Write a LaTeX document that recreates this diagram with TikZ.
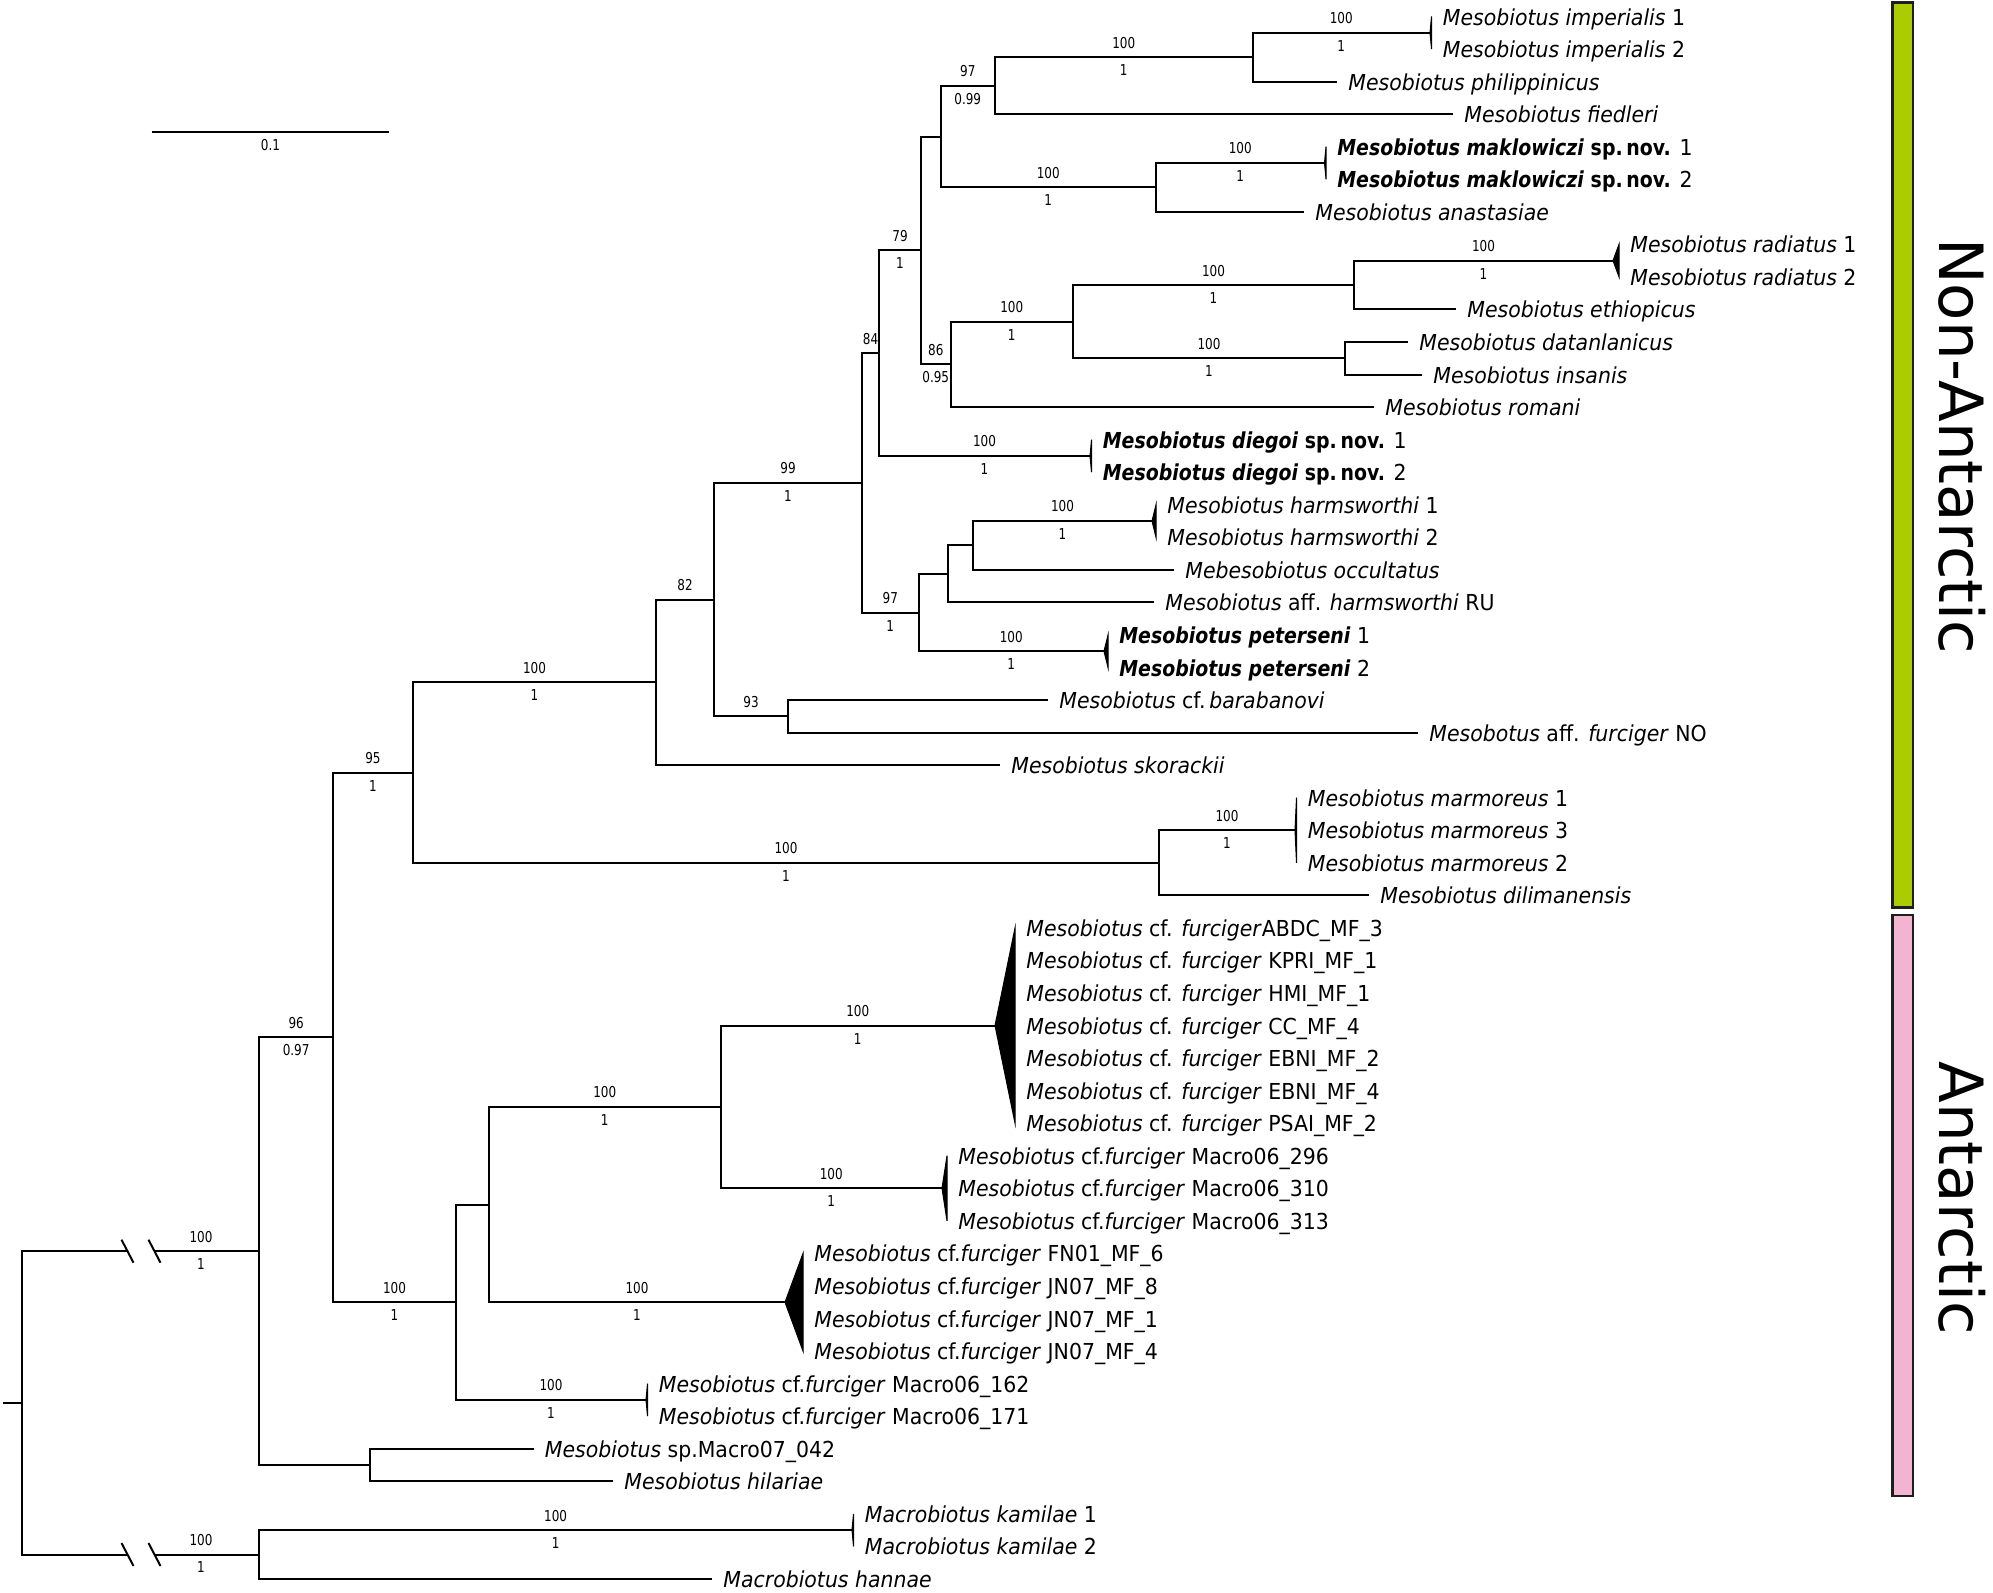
\documentclass[tikz,border=0pt]{standalone}
\usepackage{fontspec}
\setmainfont{DejaVu Sans}[FakeStretch=0.93, BoldFeatures={FakeStretch=0.86}, BoldItalicFeatures={FakeStretch=0.86}]
\newfontfamily\supf{DejaVu Sans}[FakeStretch=0.8]
\newfontfamily\bigf{DejaVu Sans}
\usetikzlibrary{calc}
\definecolor{barGreen}{RGB}{170,204,0}
\definecolor{barPink}{RGB}{242,180,208}
\definecolor{barEdge}{RGB}{30,30,30}
\tikzset{
 br/.style={line width=1pt, line join=miter},
 clade/.style={fill=black, draw=black, line width=0.5pt, line join=miter},
 tiplab/.style={anchor=base west, inner sep=0pt, xshift=5.5pt, yshift=-4.25pt, font=\fontsize{11}{13}\selectfont},
 bs/.style={font=\supf\fontsize{7.5}{8}\selectfont, inner sep=0pt, anchor=center},
 bsup/.style={bs, pos=0.75, yshift=7.25pt},
 bsdn/.style={bs, pos=0.75, yshift=-6.5pt},
 slashmark/.style={line width=1pt},
 regionbar/.style={draw=barEdge, line width=1.1pt},
 bigtext/.style={rotate=-90, anchor=base west, inner sep=0pt, font=\bigf\fontsize{30.5}{36}\selectfont},
}
\begin{document}
\begin{tikzpicture}[x=0.5pt, y=-16.275pt]
\useasboundingbox (0pt,0pt) rectangle (996.5pt,-796pt);
\begin{scope}[yshift=-8.25pt]
% internal nodes
\coordinate (root) at (21.6,42.591);
\coordinate (rstub) at (2.5,42.591);
\coordinate (sA1) at (127.5,37.932);
\coordinate (sA2) at (154.5,37.932);
\coordinate (sB1) at (127.5,47.25);
\coordinate (sB2) at (154.5,47.25);
\coordinate (nIn) at (259.3,37.932);
\coordinate (nOut) at (259.3,47.25);
\coordinate (n96) at (333,31.364);
\coordinate (nM) at (369.9,44.5);
\coordinate (n95) at (413,23.229);
\coordinate (nC) at (456,39.5);
\coordinate (nB) at (489,36.5);
\coordinate (nA) at (720.5,33.5);
\coordinate (n100d) at (656,20.457);
\coordinate (nMar) at (1159,26);
\coordinate (n82) at (714,17.914);
\coordinate (n93) at (788,21.5);
\coordinate (n99) at (862,14.328);
\coordinate (n84) at (879,10.344);
\coordinate (n97b) at (918.5,18.3125);
\coordinate (nH2) at (947.6,17.125);
\coordinate (nH) at (973,16.25);
\coordinate (n79) at (921,7.1875);
\coordinate (n97) at (940.5,3.6875);
\coordinate (n97a) at (995,2.125);
\coordinate (nImp) at (1252.5,1.25);
\coordinate (nMak) at (1156,5.25);
\coordinate (n86) at (950.5,10.6875);
\coordinate (n100c) at (1073,9.375);
\coordinate (nRad) at (1354,8.25);
\coordinate (nDat) at (1345,10.5);
% tips and clades
\coordinate (cImp) at (1430,0.5);
\coordinate (tPhil) at (1337,2);
\coordinate (tFied) at (1453,3);
\coordinate (cMak) at (1324.5,4.5);
\coordinate (tAnas) at (1304,6);
\coordinate (cRad) at (1613,7.5);
\coordinate (tEthi) at (1456,9);
\coordinate (tData) at (1408,10);
\coordinate (tInsa) at (1422,11);
\coordinate (tRoma) at (1374,12);
\coordinate (cDieg) at (1090,13.5);
\coordinate (cHarm) at (1152,15.5);
\coordinate (tOccu) at (1174,17);
\coordinate (tAffR) at (1154,18);
\coordinate (cPete) at (1104,19.5);
\coordinate (tBara) at (1048,21);
\coordinate (tFurN) at (1418,22);
\coordinate (tSkor) at (1000,23);
\coordinate (cMarm) at (1295,25);
\coordinate (tDili) at (1369,27);
\coordinate (cBig) at (995,31);
\coordinate (cM29) at (942,36);
\coordinate (cFN) at (785,39.5);
\coordinate (cM16) at (646,42.5);
\coordinate (tM07) at (533.5,44);
\coordinate (tHila) at (613,45);
\coordinate (cKam) at (852,46.5);
\coordinate (tHann) at (712,48);

% root and broken branches
\draw[br] (rstub) -- (root);
\draw[br] (root) |- (sA1);
\draw[br] (sA2) -- (nIn);
\draw[br] (root) |- (sB1);
\draw[br] (sB2) -- (nOut);
\foreach \s in {sA1,sA2,sB1,sB2}{
  \draw[slashmark] ([shift={(-6,-0.353)}]\s) -- ([shift={(6,0.353)}]\s);
}
\node[bs, yshift=7.25pt] (bIn1) at (201,37.932) {100};
\node[bs, yshift=-6.5pt] (bIn2) at (201,37.932) {1};
\node[bs, yshift=7.25pt] (bOut1) at (201,47.25) {100};
\node[bs, yshift=-6.5pt] (bOut2) at (201,47.25) {1};

% ingroup
\draw[br] (nIn) |- node[bsup] (l96a) {96} node[bsdn] (l96b) {0.97} (n96);
\draw[br] (nIn) |- (nM);
\draw[br] (n96) |- node[bsup] (l95a) {95} node[bsdn] (l95b) {1} (n95);
\draw[br] (n96) |- node[bsup] (lCa) {100} node[bsdn] (lCb) {1} (nC);
\draw[br] (n95) |- node[bsup] (l100da) {100} node[bsdn] (l100db) {1} (n100d);
\draw[br] (n95) |- node[bsup] (lMara) {100} node[bsdn] (lMarb) {1} (nMar);
\draw[br] (n100d) |- node[bsup] (l82) {82} (n82);
\draw[br] (n100d) |- (tSkor);
\draw[br] (n82) |- node[bsup] (l99a) {99} node[bsdn] (l99b) {1} (n99);
\draw[br] (n82) |- node[bsup] (l93) {93} (n93);
\draw[br] (n93) |- (tBara);
\draw[br] (n93) |- (tFurN);
\draw[br] (n99) |- node[bsup] (l84) {84} (n84);
\draw[br] (n99) |- node[bsup] (l97ba) {97} node[bsdn] (l97bb) {1} (n97b);
\draw[br] (n84) |- node[bsup] (l79a) {79} node[bsdn] (l79b) {1} (n79);
\draw[br] (n84) |- node[bsup] (lDia) {100} node[bsdn] (lDib) {1} (cDieg);
\draw[br] (n79) |- (n97);
\draw[br] (n79) |- node[bsup] (l86a) {86} node[bsdn] (l86b) {0.95} (n86);
\draw[br] (n97) |- node[bsup] (l97aa) {97} node[bsdn] (l97ab) {0.99} (n97a);
\draw[br] (n97) |- node[bsup] (lMka) {100} node[bsdn] (lMkb) {1} (nMak);
\draw[br] (n97a) |- node[bsup] (lImpa) {100} node[bsdn] (lImpb) {1} (nImp);
\draw[br] (n97a) |- (tFied);
\draw[br] (nImp) |- node[bsup] (lImca) {100} node[bsdn] (lImcb) {1} (cImp);
\draw[br] (nImp) |- (tPhil);
\draw[br] (nMak) |- node[bsup] (lMkca) {100} node[bsdn] (lMkcb) {1} (cMak);
\draw[br] (nMak) |- (tAnas);
\draw[br] (n86) |- node[bsup] (l100ca) {100} node[bsdn] (l100cb) {1} (n100c);
\draw[br] (n86) |- (tRoma);
\draw[br] (n100c) |- node[bsup] (lRada) {100} node[bsdn] (lRadb) {1} (nRad);
\draw[br] (n100c) |- node[bsup] (lData) {100} node[bsdn] (lDatb) {1} (nDat);
\draw[br] (nRad) |- node[bsup] (lRdca) {100} node[bsdn] (lRdcb) {1} (cRad);
\draw[br] (nRad) |- (tEthi);
\draw[br] (nDat) |- (tData);
\draw[br] (nDat) |- (tInsa);
\draw[br] (n97b) |- (nH2);
\draw[br] (n97b) |- node[bsup] (lPea) {100} node[bsdn] (lPeb) {1} (cPete);
\draw[br] (nH2) |- (nH);
\draw[br] (nH2) |- (tAffR);
\draw[br] (nH) |- node[bsup] (lHaa) {100} node[bsdn] (lHab) {1} (cHarm);
\draw[br] (nH) |- (tOccu);
\draw[br] (nMar) |- node[bsup] (lMrca) {100} node[bsdn] (lMrcb) {1} (cMarm);
\draw[br] (nMar) |- (tDili);
\draw[br] (nC) |- (nB);
\draw[br] (nC) |- node[bsup] (lM16a) {100} node[bsdn] (lM16b) {1} (cM16);
\draw[br] (nB) |- node[bsup] (lAa) {100} node[bsdn] (lAb) {1} (nA);
\draw[br] (nB) |- node[bsup] (lFNa) {100} node[bsdn] (lFNb) {1} (cFN);
\draw[br] (nA) |- node[bsup] (lBiga) {100} node[bsdn] (lBigb) {1} (cBig);
\draw[br] (nA) |- node[bsup] (lM29a) {100} node[bsdn] (lM29b) {1} (cM29);
\draw[br] (nM) |- (tM07);
\draw[br] (nM) |- (tHila);
% outgroup
\draw[br] (nOut) |- node[bsup] (lKa) {100} node[bsdn] (lKb) {1} (cKam);
\draw[br] (nOut) |- (tHann);

% collapsed clades
\filldraw[clade] (cImp) -- ++(1.5,-0.5) -- ++(0,1) -- cycle;
\filldraw[clade] (cMak) -- ++(1.5,-0.5) -- ++(0,1) -- cycle;
\filldraw[clade] (cRad) -- ++(6,-0.5) -- ++(0,1) -- cycle;
\filldraw[clade] (cDieg) -- ++(1.5,-0.5) -- ++(0,1) -- cycle;
\filldraw[clade] (cHarm) -- ++(4,-0.5) -- ++(0,1) -- cycle;
\filldraw[clade] (cPete) -- ++(4,-0.5) -- ++(0,1) -- cycle;
\filldraw[clade] (cMarm) -- ++(1.5,-1) -- ++(0,2) -- cycle;
\filldraw[clade] (cBig) -- ++(20,-3) -- ++(0,6) -- cycle;
\filldraw[clade] (cM29) -- ++(5,-1) -- ++(0,2) -- cycle;
\filldraw[clade] (cFN) -- ++(18,-1.5) -- ++(0,3) -- cycle;
\filldraw[clade] (cM16) -- ++(1.5,-0.5) -- ++(0,1) -- cycle;
\filldraw[clade] (cKam) -- ++(1.5,-0.5) -- ++(0,1) -- cycle;

% tip labels
\node[tiplab] (xImp1) at (1431.5,0) {\textit{Mesobiotus imperialis} 1};
\node[tiplab] (xImp2) at (1431.5,1) {\textit{Mesobiotus imperialis} 2};
\node[tiplab] (xPhil) at (tPhil) {\textit{Mesobiotus philippinicus}};
\node[tiplab] (xFied) at (tFied) {\textit{Mesobiotus fiedleri}};
\node[tiplab] (xMak1) at (1326,4) {\textbf{\textit{Mesobiotus maklowiczi} sp.\,nov.} 1};
\node[tiplab] (xMak2) at (1326,5) {\textbf{\textit{Mesobiotus maklowiczi} sp.\,nov.} 2};
\node[tiplab] (xAnas) at (tAnas) {\textit{Mesobiotus anastasiae}};
\node[tiplab] (xRad1) at (1619,7) {\textit{Mesobiotus radiatus} 1};
\node[tiplab] (xRad2) at (1619,8) {\textit{Mesobiotus radiatus} 2};
\node[tiplab] (xEthi) at (tEthi) {\textit{Mesobiotus ethiopicus}};
\node[tiplab] (xData) at (tData) {\textit{Mesobiotus datanlanicus}};
\node[tiplab] (xInsa) at (tInsa) {\textit{Mesobiotus insanis}};
\node[tiplab] (xRoma) at (tRoma) {\textit{Mesobiotus romani}};
\node[tiplab] (xDie1) at (1091.5,13) {\textbf{\textit{Mesobiotus diegoi} sp.\,nov.} 1};
\node[tiplab] (xDie2) at (1091.5,14) {\textbf{\textit{Mesobiotus diegoi} sp.\,nov.} 2};
\node[tiplab] (xHar1) at (1156,15) {\textit{Mesobiotus harmsworthi} 1};
\node[tiplab] (xHar2) at (1156,16) {\textit{Mesobiotus harmsworthi} 2};
\node[tiplab] (xOccu) at (tOccu) {\textit{Mebesobiotus occultatus}};
\node[tiplab] (xAffR) at (tAffR) {\textit{Mesobiotus} aff. \textit{harmsworthi} RU};
\node[tiplab] (xPet1) at (1108,19) {\textbf{\textit{Mesobiotus peterseni}} 1};
\node[tiplab] (xPet2) at (1108,20) {\textbf{\textit{Mesobiotus peterseni}} 2};
\node[tiplab] (xBara) at (tBara) {\textit{Mesobiotus} cf.\,\textit{barabanovi}};
\node[tiplab] (xFurN) at (tFurN) {\textit{Mesobotus} aff. \textit{furciger} NO};
\node[tiplab] (xSkor) at (tSkor) {\textit{Mesobiotus skorackii}};
\node[tiplab] (xMar1) at (1296.5,24) {\textit{Mesobiotus marmoreus} 1};
\node[tiplab] (xMar3) at (1296.5,25) {\textit{Mesobiotus marmoreus} 3};
\node[tiplab] (xMar2) at (1296.5,26) {\textit{Mesobiotus marmoreus} 2};
\node[tiplab] (xDili) at (tDili) {\textit{Mesobiotus dilimanensis}};
\node[tiplab] (xBig1) at (1015,28) {\textit{Mesobiotus} cf. \textit{furciger}ABDC\_MF\_3};
\node[tiplab] (xBig2) at (1015,29) {\textit{Mesobiotus} cf. \textit{furciger} KPRI\_MF\_1};
\node[tiplab] (xBig3) at (1015,30) {\textit{Mesobiotus} cf. \textit{furciger} HMI\_MF\_1};
\node[tiplab] (xBig4) at (1015,31) {\textit{Mesobiotus} cf. \textit{furciger} CC\_MF\_4};
\node[tiplab] (xBig5) at (1015,32) {\textit{Mesobiotus} cf. \textit{furciger} EBNI\_MF\_2};
\node[tiplab] (xBig6) at (1015,33) {\textit{Mesobiotus} cf. \textit{furciger} EBNI\_MF\_4};
\node[tiplab] (xBig7) at (1015,34) {\textit{Mesobiotus} cf. \textit{furciger} PSAI\_MF\_2};
\node[tiplab] (xM29a) at (947,35) {\textit{Mesobiotus} cf.\textit{furciger} Macro06\_296};
\node[tiplab] (xM29b) at (947,36) {\textit{Mesobiotus} cf.\textit{furciger} Macro06\_310};
\node[tiplab] (xM29c) at (947,37) {\textit{Mesobiotus} cf.\textit{furciger} Macro06\_313};
\node[tiplab] (xFN1) at (803,38) {\textit{Mesobiotus} cf.\textit{furciger} FN01\_MF\_6};
\node[tiplab] (xFN2) at (803,39) {\textit{Mesobiotus} cf.\textit{furciger} JN07\_MF\_8};
\node[tiplab] (xFN3) at (803,40) {\textit{Mesobiotus} cf.\textit{furciger} JN07\_MF\_1};
\node[tiplab] (xFN4) at (803,41) {\textit{Mesobiotus} cf.\textit{furciger} JN07\_MF\_4};
\node[tiplab] (xM16a) at (647.5,42) {\textit{Mesobiotus} cf.\textit{furciger} Macro06\_162};
\node[tiplab] (xM16b) at (647.5,43) {\textit{Mesobiotus} cf.\textit{furciger} Macro06\_171};
\node[tiplab] (xM07) at (tM07) {\textit{Mesobiotus} sp.Macro07\_042};
\node[tiplab] (xHila) at (tHila) {\textit{Mesobiotus hilariae}};
\node[tiplab] (xKam1) at (853.5,46) {\textit{Macrobiotus kamilae} 1};
\node[tiplab] (xKam2) at (853.5,47) {\textit{Macrobiotus kamilae} 2};
\node[tiplab] (xHann) at (tHann) {\textit{Macrobiotus hannae}};
\end{scope}

% scale bar
\coordinate (sbL) at (75.85pt,-65.85pt);
\coordinate (sbR) at (194.65pt,-65.85pt);
\draw[br] (sbL) -- node[bs, pos=0.5, yshift=-6.65pt] (sbLab) {0.1} (sbR);

% region bars
\draw[regionbar, fill=barGreen] (946.25pt,-1.25pt) rectangle (956.5pt,-453.75pt);
\draw[regionbar, fill=barPink] (946.25pt,-457.5pt) rectangle (956.5pt,-748pt);
\node[bigtext] (nonant) at (969.65pt,-118.9pt) {Non-Antarctic};
\node[bigtext] (antarc) at (969.65pt,-530.5pt) {Antarctic};
\end{tikzpicture}
\end{document}
